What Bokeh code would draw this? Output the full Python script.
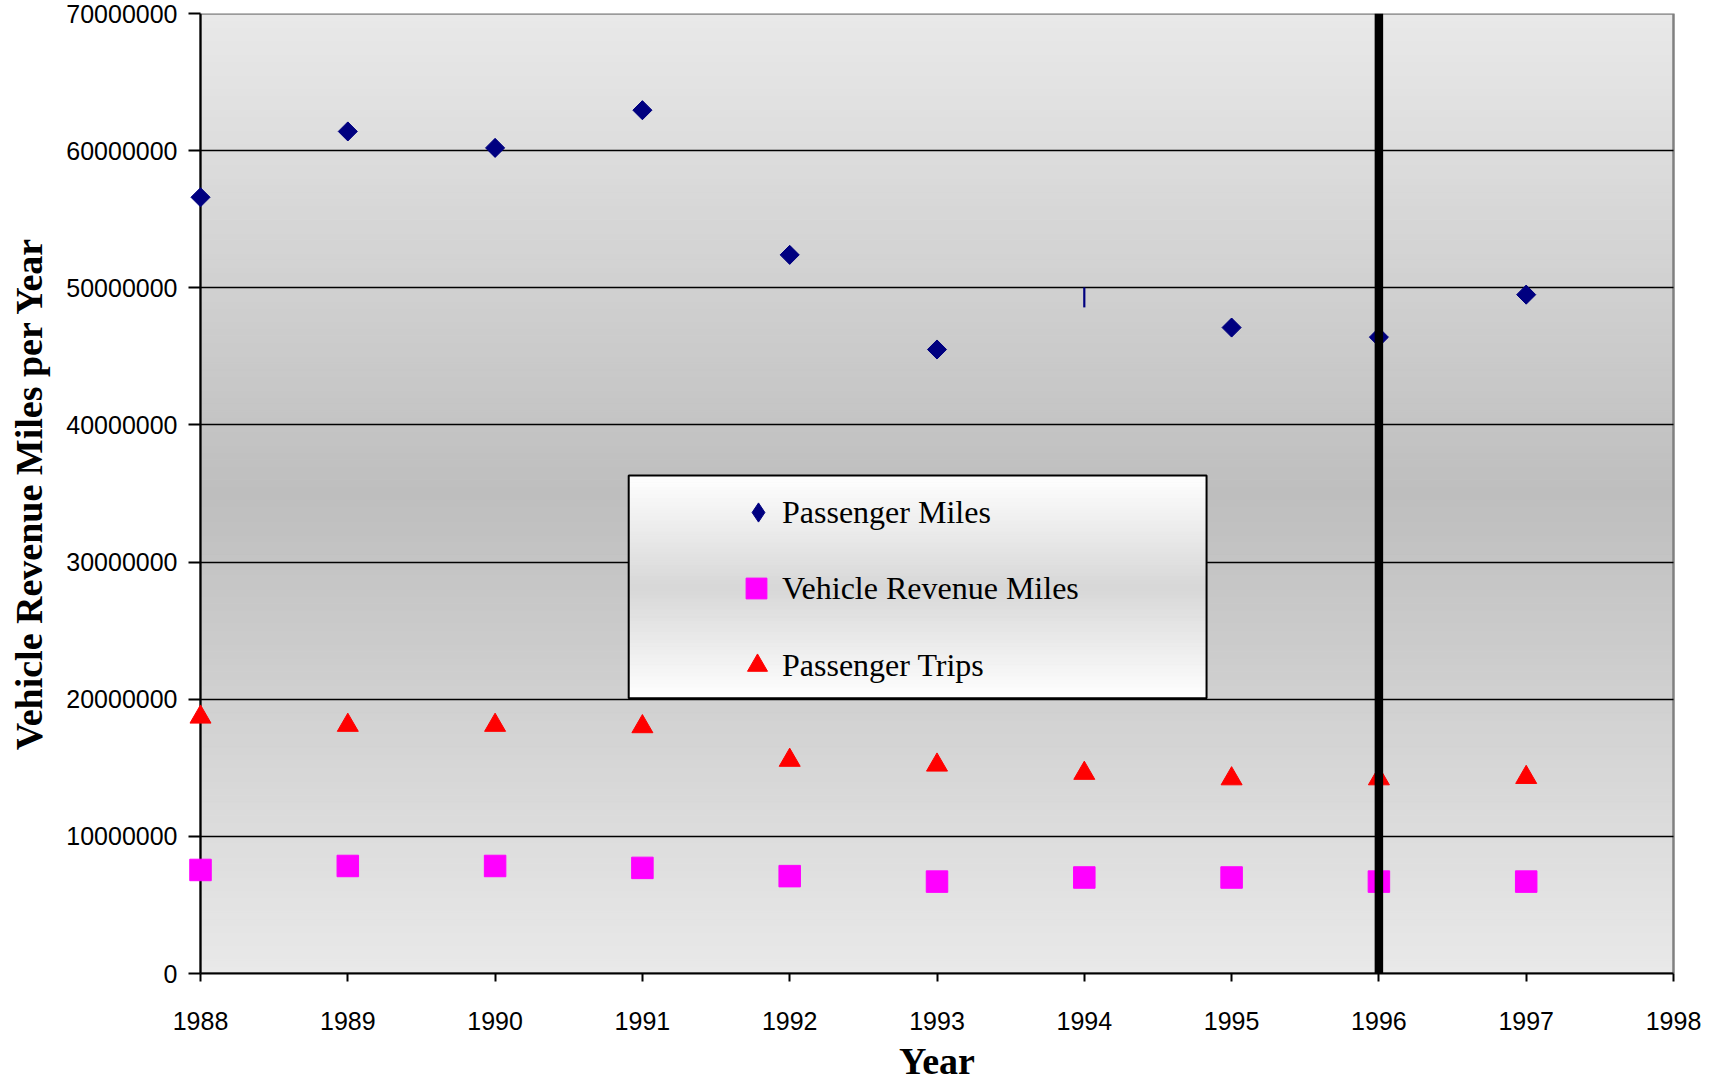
import numpy as np
from bokeh.plotting import figure
from bokeh.models import (Range1d, FixedTicker, NumeralTickFormatter, Span,
                          Legend, LegendItem)
from bokeh.embed import file_html
from bokeh.resources import INLINE

# ---- data -------------------------------------------------------------
years = [1988, 1989, 1990, 1991, 1992, 1993, 1994, 1995, 1996, 1997]
passenger_miles = [56.6e6, 61.4e6, 60.2e6, 62.95e6, 52.4e6,
                   45.5e6, 49.3e6, 47.1e6, 46.4e6, 49.5e6]
vehicle_revenue_miles = [7.55e6, 7.84e6, 7.84e6, 7.7e6, 7.1e6,
                         6.7e6, 7.0e6, 7.0e6, 6.7e6, 6.7e6]
passenger_trips = [18.7e6, 18.1e6, 18.1e6, 18.0e6, 15.55e6,
                   15.2e6, 14.6e6, 14.2e6, 14.2e6, 14.3e6]

x_ticks = [1988, 1989, 1990, 1991, 1992, 1993, 1994, 1995, 1996, 1997, 1998]
y_ticks = [0, 10e6, 20e6, 30e6, 40e6, 50e6, 60e6, 70e6]
series_names = ["Passenger Miles", "Vehicle Revenue Miles", "Passenger Trips"]

highlight_year = 1996      # heavy vertical rule
flat_marker_year = 1994    # Passenger Miles point drawn as a thin bar

# ---- layout constants ---------------------------------------------------
X0, X1 = x_ticks[0], x_ticks[-1]
Y0, Y1 = y_ticks[0], y_ticks[-1]
X_PAD = 0.0815             # room beside the plot area so edge markers stay whole
LEGEND_BOX = dict(left=1990.907, right=1994.83, bottom=20.07e6, top=36.32e6)

SANS = "Liberation Sans"
SERIF = "Liberation Serif"
NAVY, MAGENTA, RED = "#000080", "#ff00ff", "#ff0000"

p = figure(width=1713, height=1085, output_backend="svg", toolbar_location=None,
           x_range=Range1d(X0 - X_PAD, X1 + X_PAD), y_range=Range1d(Y0, Y1),
           min_border_left=188, min_border_right=28,
           min_border_top=13, min_border_bottom=112,
           background_fill_color="white", border_fill_color="white")
p.outline_line_color = None


def grey(v):
    v = int(round(v))
    return "#%02x%02x%02x" % (v, v, v)


# plot area: light-dark-light vertical gradient
n_bands = 140
edges = np.linspace(Y0, Y1, n_bands + 1)
t = (edges[:-1] + edges[1:]) / 2 / (Y1 - Y0)
shade = 233 - 43 * (1 - np.abs(t - 0.5) / 0.5)
band_cols = [grey(s) for s in shade]
p.quad(left=X0, right=X1, bottom=edges[:-1], top=edges[1:],
       fill_color=band_cols, line_color=band_cols, line_width=1, level="image")
# grey frame around the plot area (left/bottom sides sit under the axes)
p.quad(left=[X0], right=[X1], bottom=[Y0], top=[Y1], fill_alpha=0,
       line_color="#808080", line_width=2.5, level="image")

# grid and axes
p.xgrid.visible = False
p.ygrid.ticker = FixedTicker(ticks=y_ticks)
p.ygrid.grid_line_color = "black"
p.ygrid.grid_line_width = 1.5
if "cross_bounds" in p.ygrid[0].properties():
    p.ygrid.cross_bounds = (X0, X1)

p.xaxis.ticker = FixedTicker(ticks=x_ticks)
p.xaxis.bounds = (X0, X1)
p.yaxis.ticker = FixedTicker(ticks=y_ticks)
p.yaxis.formatter = NumeralTickFormatter(format="0")
for ax in (p.xaxis, p.yaxis):
    ax.axis_line_color = "black"
    ax.axis_line_width = 2
    ax.major_tick_line_color = "black"
    ax.major_tick_line_width = 2
    ax.major_tick_out = 8
    ax.major_tick_in = 0
    ax.minor_tick_line_color = None
    ax.major_label_text_font = SANS
    ax.major_label_text_font_size = "25px"
    ax.major_label_text_color = "black"
    ax.axis_label_text_font = SERIF
    ax.axis_label_text_font_style = "bold"
    ax.axis_label_text_font_size = "38px"
    ax.axis_label_text_color = "black"
# the y axis sits at the panel edge; its ticks reach in to the 1988 line
p.yaxis.axis_line_color = None
p.yaxis.major_tick_out = 0
p.yaxis.major_tick_in = 12
p.xaxis.major_label_standoff = 30
p.yaxis.major_label_standoff = 11
p.xaxis.axis_label = "Year"
p.yaxis.axis_label = "Vehicle Revenue Miles per Year"
p.xaxis.axis_label_standoff = 7
p.yaxis.axis_label_standoff = 13
# y axis rule drawn at the first year, beneath the markers
p.add_layout(Span(location=X0, dimension="height", line_color="black",
                  line_width=2, level="underlay"))

# legend panel: white-grey-white gradient with a black frame
n_lb = 60
l_edges = np.linspace(LEGEND_BOX["bottom"], LEGEND_BOX["top"], n_lb + 1)
lt = (np.arange(n_lb) + 0.5) / n_lb
l_shade = 255 - 40 * (1 - np.abs(lt - 0.5) / 0.5)
l_cols = [grey(s) for s in l_shade]
p.quad(left=LEGEND_BOX["left"], right=LEGEND_BOX["right"],
       bottom=l_edges[:-1], top=l_edges[1:],
       fill_color=l_cols, line_color=l_cols, line_width=1, level="guide")
p.quad(left=[LEGEND_BOX["left"]], right=[LEGEND_BOX["right"]],
       bottom=[LEGEND_BOX["bottom"]], top=[LEGEND_BOX["top"]],
       fill_alpha=0, line_color="black", line_width=2, level="guide")

# series
pm_years = [y for y in years if y != flat_marker_year]
pm_vals = [v for y, v in zip(years, passenger_miles) if y != flat_marker_year]
flat_vals = [v for y, v in zip(years, passenger_miles) if y == flat_marker_year]

# Passenger Miles: a diamond core (also used as the legend key) under a
# square turned 45 degrees, which gives the wide diamond shape
r_pm = p.scatter(pm_years, pm_vals, marker="diamond", size=18,
                 fill_color=NAVY, line_color=NAVY)
p.scatter(pm_years, pm_vals, marker="square", angle=np.pi / 4, size=13.5,
          fill_color=NAVY, line_color=NAVY)
p.scatter([flat_marker_year] * len(flat_vals), flat_vals, marker="dash",
          angle=np.pi / 2, size=20, line_color=NAVY, line_width=2.2)
r_vrm = p.scatter(years, vehicle_revenue_miles, marker="square", size=21.5,
                  fill_color=MAGENTA, line_color=MAGENTA)
r_pt = p.scatter(years, passenger_trips, marker="triangle", size=21,
                 fill_color=RED, line_color=RED)

p.add_layout(Span(location=highlight_year, dimension="height",
                  line_color="black", line_width=8.5))

# one legend per row so each key can have its own size
legend_rows = [(series_names[0], r_pm, 48, (546, 437)),
               (series_names[1], r_vrm, 52, (542, 359)),
               (series_names[2], r_pt, 50, (544, 283))]
for label, rend, gsize, loc in legend_rows:
    p.add_layout(Legend(items=[LegendItem(label=label, renderers=[rend])],
                        location=loc, padding=0, margin=0, spacing=0,
                        glyph_width=gsize, glyph_height=gsize, label_height=gsize,
                        label_standoff=0,
                        label_text_font=SERIF, label_text_font_size="32px",
                        label_text_color="black",
                        background_fill_alpha=0, border_line_alpha=0))

open("out.html", "w").write(file_html(p, INLINE))
